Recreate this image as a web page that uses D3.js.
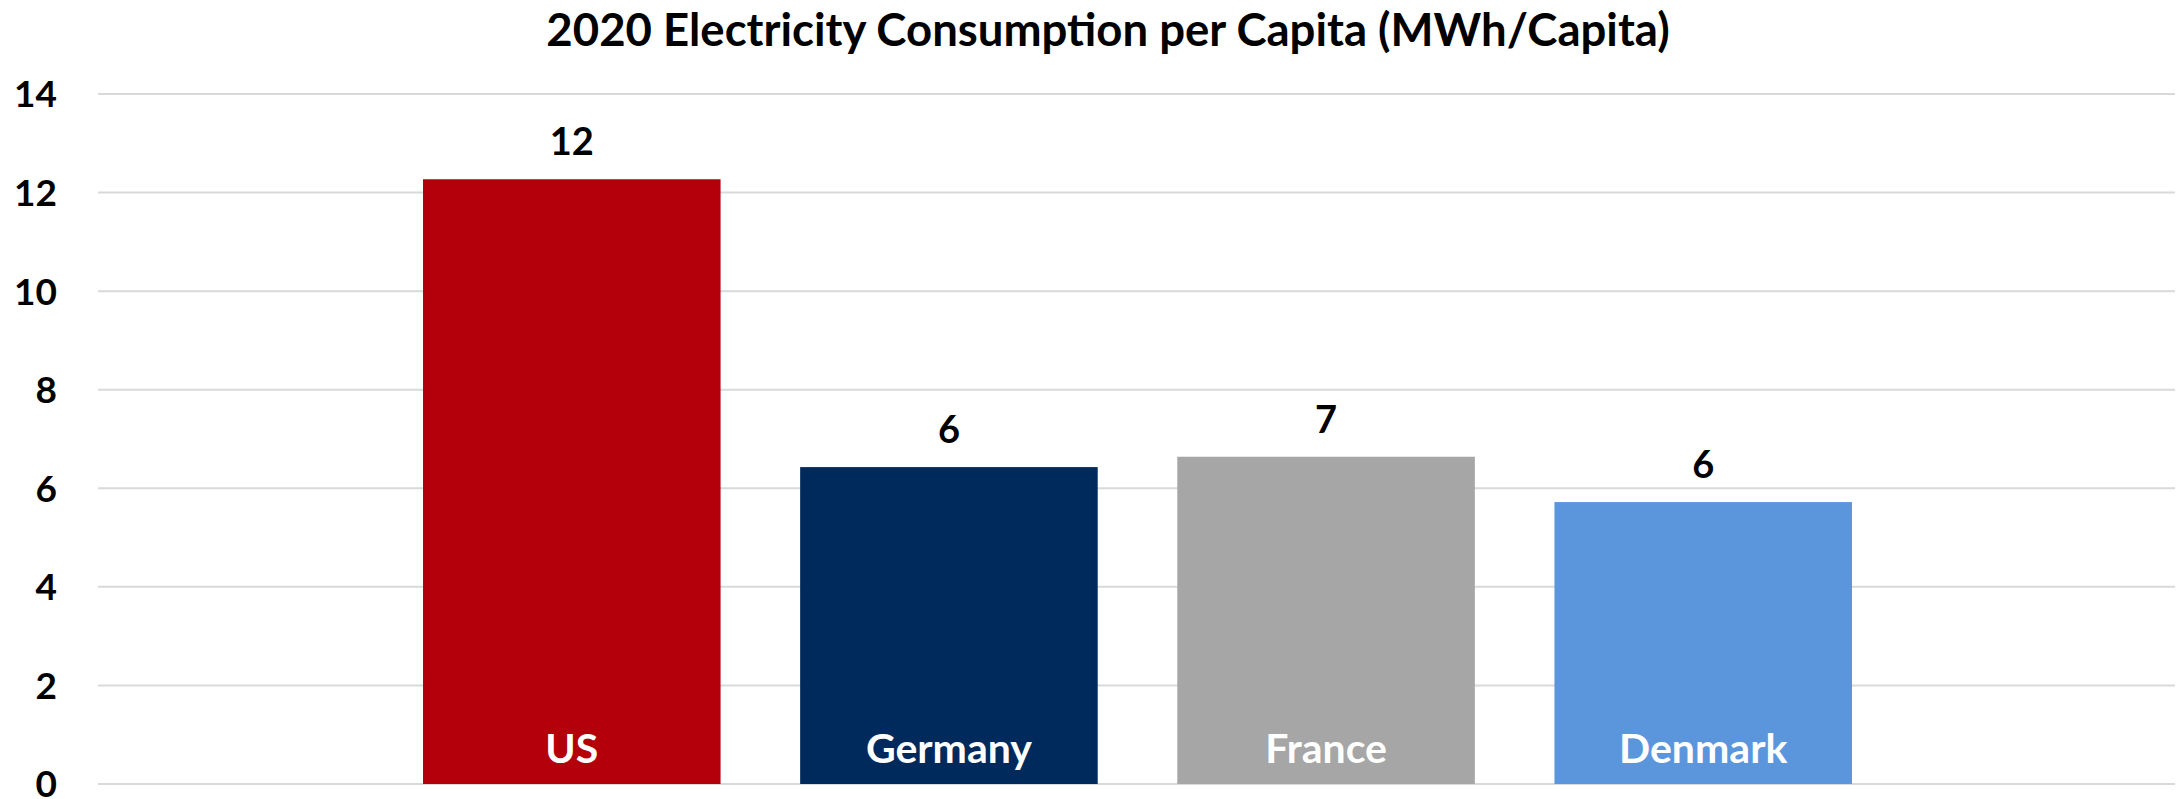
<!DOCTYPE html>
<html>
<head>
<meta charset="utf-8">
<script src="https://cdn.jsdelivr.net/npm/d3@7"></script>
<style>
  html, body { margin: 0; padding: 0; background: #ffffff; }
  svg { display: block; }
  text { font-family: Lato, "Open Sans", "Noto Sans", sans-serif; font-weight: 700; }
</style>
</head>
<body>
<svg id="chart" width="2183" height="799"></svg>
<script>
// ---- data ----
const title = "2020 Electricity Consumption per Capita (MWh/Capita)";
const categories = ["US", "Germany", "France", "Denmark"];
const values = [12.27, 6.43, 6.64, 5.72];
const barColors = ["#B3000A", "#002A5C", "#A5A6A5", "#5B96DD"];
const yTicks = [0, 2, 4, 6, 8, 10, 12, 14];

// ---- layout ----
const W = 2183, H = 799;
const plot = { left: 98, right: 2175, top: 94, bottom: 784 };

const svg = d3.select("#chart");
svg.append("rect").attr("width", W).attr("height", H).attr("fill", "#ffffff");

const y = d3.scaleLinear().domain([0, 14]).range([plot.bottom, plot.top]);
const x = d3.scaleBand().domain(categories).range([423, 1852])
  .paddingInner(0.211).paddingOuter(0);

// gridlines
svg.append("g").selectAll("line").data(yTicks).join("line")
  .attr("x1", plot.left).attr("x2", plot.right)
  .attr("y1", d => y(d)).attr("y2", d => y(d))
  .attr("stroke", "#D9D9D9").attr("stroke-width", 2);

// y axis labels
const yAxis = d3.axisLeft(y).tickValues(yTicks).tickSize(0).tickPadding(0);
const gy = svg.append("g").attr("transform", "translate(57,0)").call(yAxis);
gy.select(".domain").remove();
gy.selectAll("text")
  .attr("font-size", 37).attr("fill", "#000").attr("dy", "0.35em")
  .style("font-family", "Lato, sans-serif").style("font-weight", 700);

const data = categories.map((c, i) => ({ c, v: values[i], col: barColors[i] }));

// bars
svg.append("g").selectAll("rect").data(data).join("rect")
  .attr("x", d => x(d.c)).attr("width", x.bandwidth())
  .attr("y", d => y(d.v)).attr("height", d => y(0) - y(d.v))
  .attr("fill", d => d.col);

// value labels
svg.append("g").selectAll("text").data(data).join("text")
  .attr("x", d => x(d.c) + x.bandwidth() / 2)
  .attr("y", d => y(d.v) - 24)
  .attr("text-anchor", "middle").attr("font-size", 38).attr("fill", "#000")
  .text(d => d3.format(".0f")(d.v));

// category labels inside bars
svg.append("g").selectAll("text").data(data).join("text")
  .attr("x", d => x(d.c) + x.bandwidth() / 2)
  .attr("y", 763)
  .attr("text-anchor", "middle").attr("font-size", 41).attr("fill", "#fff")
  .text(d => d.c);

// title
svg.append("text").attr("x", 1108).attr("y", 46)
  .attr("text-anchor", "middle").attr("font-size", 45.5).attr("fill", "#000")
  .text(title);
</script>
</body>
</html>
